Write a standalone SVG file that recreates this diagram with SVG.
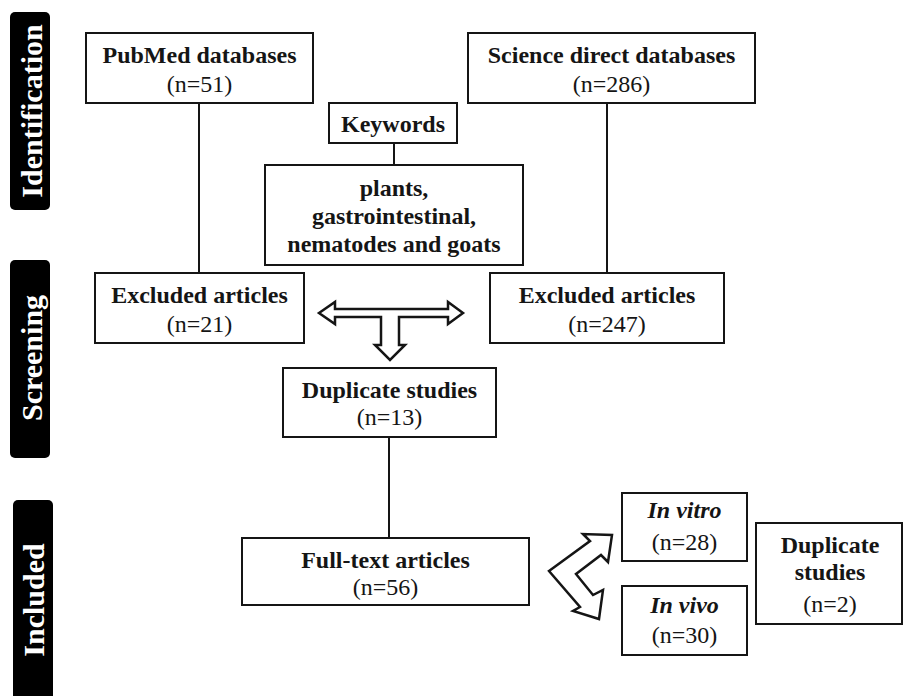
<svg xmlns="http://www.w3.org/2000/svg" width="904" height="696" viewBox="0 0 904 696">
<style>
  .box{fill:#fff;stroke:#151515;stroke-width:2}
  .bar{fill:#000}
  .t{font-family:"Liberation Serif","Times New Roman",serif;font-size:24px;fill:#151515;text-anchor:middle}
  .b{font-weight:bold}
  .i{font-style:italic}
  .side{font-family:"Liberation Serif","Times New Roman",serif;font-size:30px;font-weight:bold;fill:#fff;text-anchor:middle}
  .ln{stroke:#151515;stroke-width:2;fill:none}
  .arr{fill:#fff;stroke:#151515;stroke-width:2.5;stroke-linejoin:miter}
</style>
<rect width="904" height="696" fill="#fff"/>
<g id="stages">
  <g id="stage-identification"><rect class="bar" x="10" y="12" width="40" height="198" rx="5"/><text class="side" transform="translate(42,111) rotate(-90)">Identification</text></g>
  <g id="stage-screening"><rect class="bar" x="10" y="260" width="40" height="198" rx="5"/><text class="side" transform="translate(42,358) rotate(-90)">Screening</text></g>
  <g id="stage-included"><rect class="bar" x="13" y="500" width="40" height="205" rx="5"/><text class="side" transform="translate(44,600) rotate(-90)">Included</text></g>
</g>
<g id="connectors">
  <line class="ln" x1="199" y1="103" x2="199" y2="273"/>
  <line class="ln" x1="607" y1="103" x2="607" y2="273"/>
  <line class="ln" x1="394" y1="143" x2="394" y2="165"/>
  <line class="ln" x1="389" y1="437" x2="389" y2="538"/>
  <polygon class="arr" points="319,313 335,302 335,309 448,309 448,302 463,313 448,324 448,317 399,317 399,345 405,345 390,360 375,345 381,345 381,317 335,317 335,324"/>
  <polygon class="arr" points="549,571 590,541 583,534 612,535 608,562 601,555 576,574 593,595 603,590 599,619 573,611 580,607"/>
</g>
<g id="pubmed"><rect class="box" x="86" y="33" width="227" height="70"/><text class="t b" x="199.5" y="63">PubMed databases</text><text class="t" x="199.5" y="92">(n=51)</text></g>
<g id="sciencedirect"><rect class="box" x="468" y="33" width="287" height="70"/><text class="t b" x="611.5" y="63">Science direct databases</text><text class="t" x="611.5" y="92">(n=286)</text></g>
<g id="keywords"><rect class="box" x="329" y="103" width="128" height="40"/><text class="t b" x="393" y="132">Keywords</text></g>
<g id="keyword-list"><rect class="box" x="265" y="165" width="258" height="100"/><text class="t b" x="394" y="196">plants,</text><text class="t b" x="394" y="224">gastrointestinal,</text><text class="t b" x="394" y="252">nematodes and goats</text></g>
<g id="excluded-left"><rect class="box" x="95" y="273" width="209" height="70"/><text class="t b" x="199.5" y="303">Excluded articles</text><text class="t" x="199.5" y="332">(n=21)</text></g>
<g id="excluded-right"><rect class="box" x="490" y="273" width="234" height="70"/><text class="t b" x="607" y="303">Excluded articles</text><text class="t" x="607" y="332">(n=247)</text></g>
<g id="duplicate-13"><rect class="box" x="283" y="368" width="213" height="69"/><text class="t b" x="389.5" y="398">Duplicate studies</text><text class="t" x="389.5" y="425">(n=13)</text></g>
<g id="fulltext"><rect class="box" x="242" y="538" width="287" height="67"/><text class="t b" x="385.5" y="568">Full-text articles</text><text class="t" x="385.5" y="595">(n=56)</text></g>
<g id="invitro"><rect class="box" x="622" y="493" width="125" height="68"/><text class="t b i" x="684.5" y="518">In vitro</text><text class="t" x="684.5" y="550">(n=28)</text></g>
<g id="invivo"><rect class="box" x="622" y="586" width="125" height="69"/><text class="t b i" x="684.5" y="613">In vivo</text><text class="t" x="684.5" y="643">(n=30)</text></g>
<g id="duplicate-2"><rect class="box" x="756" y="523" width="146" height="101"/><text class="t b" x="830" y="553">Duplicate</text><text class="t b" x="830" y="580">studies</text><text class="t" x="830" y="612">(n=2)</text></g>
</svg>
